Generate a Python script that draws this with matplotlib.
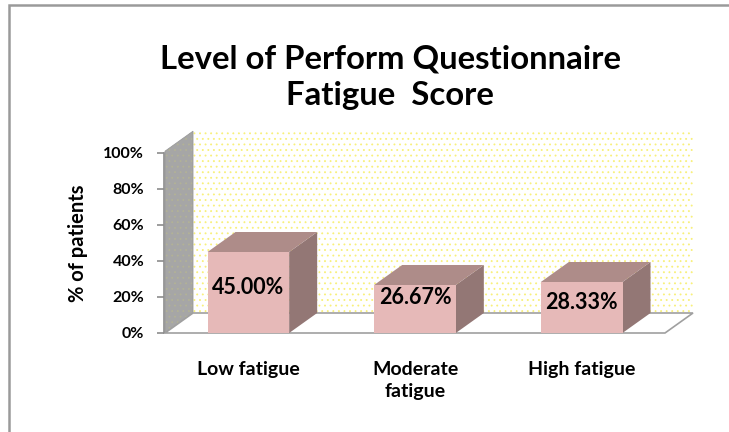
import matplotlib
matplotlib.use("Agg")
import matplotlib.pyplot as plt
from matplotlib.patches import Polygon, Rectangle

# ---- data ----
categories = ["Low fatigue", "Moderate\nfatigue", "High fatigue"]
values = [45.00, 26.67, 28.33]
value_labels = ["45.00%", "26.67%", "28.33%"]
yticks = [0, 20, 40, 60, 80, 100]
ytick_labels = ["0%", "20%", "40%", "60%", "80%", "100%"]
title = "Level of Perform Questionnaire\nFatigue  Score"
ylabel = "% of patients"

# ---- layout ----
label_heights = [25.5, 20.0, 17.2]   # vertical placement of value labels
W, H = 729, 432
FONT = "Lato"
DX = 28 / 500 * 3       # depth offset in category units
DY = 20 / 180 * 100     # depth offset in %
BW = 0.49
FRONT = "#E6B9B8"
TOP = "#AE8C89"
SIDE = "#937775"

plt.rcParams["hatch.linewidth"] = 0.6

fig = plt.figure(figsize=(W / 100, H / 100), dpi=100)
fig.patch.set_facecolor("white")
ax = fig.add_axes([165 / W, 99 / H, 500 / W, 180 / H])
ax.set_xlim(-0.5, 2.5)
ax.set_ylim(0, 100)
ax.patch.set_visible(False)

# back wall (yellow dotted)
ax.add_patch(Rectangle((-0.5 + DX, DY), 3.0, 101.5, facecolor="white",
                       edgecolor="#F8F07A", hatch="...", lw=0, clip_on=False, zorder=0))
# left wall (gray)
wall = [(-0.5, 0), (-0.5, 101), (-0.5 + DX, 101 + DY), (-0.5 + DX, DY)]
ax.add_patch(Polygon(wall, closed=True, facecolor="#A6A6A6", edgecolor="#B2B296",
                     hatch="...", lw=0, clip_on=False, zorder=1))
ax.add_patch(Polygon(wall, closed=True, fill=False, edgecolor="#9A9A9A", lw=0.6,
                     clip_on=False, zorder=1))
# floor
ax.add_patch(Polygon([(-0.5, 0), (2.5, 0), (2.5 + DX, DY), (-0.5 + DX, DY)],
                     closed=True, facecolor="white", edgecolor="#A0A0A0", lw=1.2,
                     clip_on=False, zorder=2))

xs = range(len(values))
for x, v in zip(xs, values):
    l, r = x - BW / 2, x + BW / 2
    ax.add_patch(Polygon([(r, 0), (r + DX, DY), (r + DX, v + DY), (r, v)], closed=True,
                         facecolor=SIDE, edgecolor="none", clip_on=False, zorder=3))
    ax.add_patch(Polygon([(l, v), (r, v), (r + DX, v + DY), (l + DX, v + DY)], closed=True,
                         facecolor=TOP, edgecolor="none", clip_on=False, zorder=3))
    ax.bar(x, v, width=BW, color=FRONT, edgecolor="none", zorder=4, clip_on=False)

for x, lab, hy in zip(xs, value_labels, label_heights):
    ax.text(x, hy, lab, ha="center", va="center", fontsize=15.5, fontweight="bold",
            family=FONT, color="black", zorder=5)

for s in ["top", "right", "bottom"]:
    ax.spines[s].set_visible(False)
ax.spines["left"].set_color("#8C8C8C")
ax.spines["left"].set_linewidth(1.2)
ax.spines["left"].set_position(("outward", 1))
ax.set_yticks(yticks)
ax.set_yticklabels(ytick_labels, fontsize=11.5, fontweight="bold", family=FONT)
ax.tick_params(axis="y", length=5, width=1.2, color="#8C8C8C", pad=9)
ax.set_xticks(list(xs))
ax.set_xticklabels(categories, fontsize=14, fontweight="bold", family=FONT,
                   linespacing=1.35)
ax.tick_params(axis="x", length=0, pad=20)
ax.set_ylabel(ylabel, fontsize=14.5, fontweight="bold", family=FONT, labelpad=11)

fig.text(390 / W, 1 - 77 / H, title, ha="center", va="center", fontsize=23.7,
         fontweight="bold", family=FONT, linespacing=1.32)

fig.patches.append(Rectangle((9 / W, -0.1), 1.2, 1.1 - 5 / H, transform=fig.transFigure,
                             fill=False, edgecolor="#9A9A9A", lw=1.8))

fig.savefig("out.png", dpi=100, facecolor="white")
